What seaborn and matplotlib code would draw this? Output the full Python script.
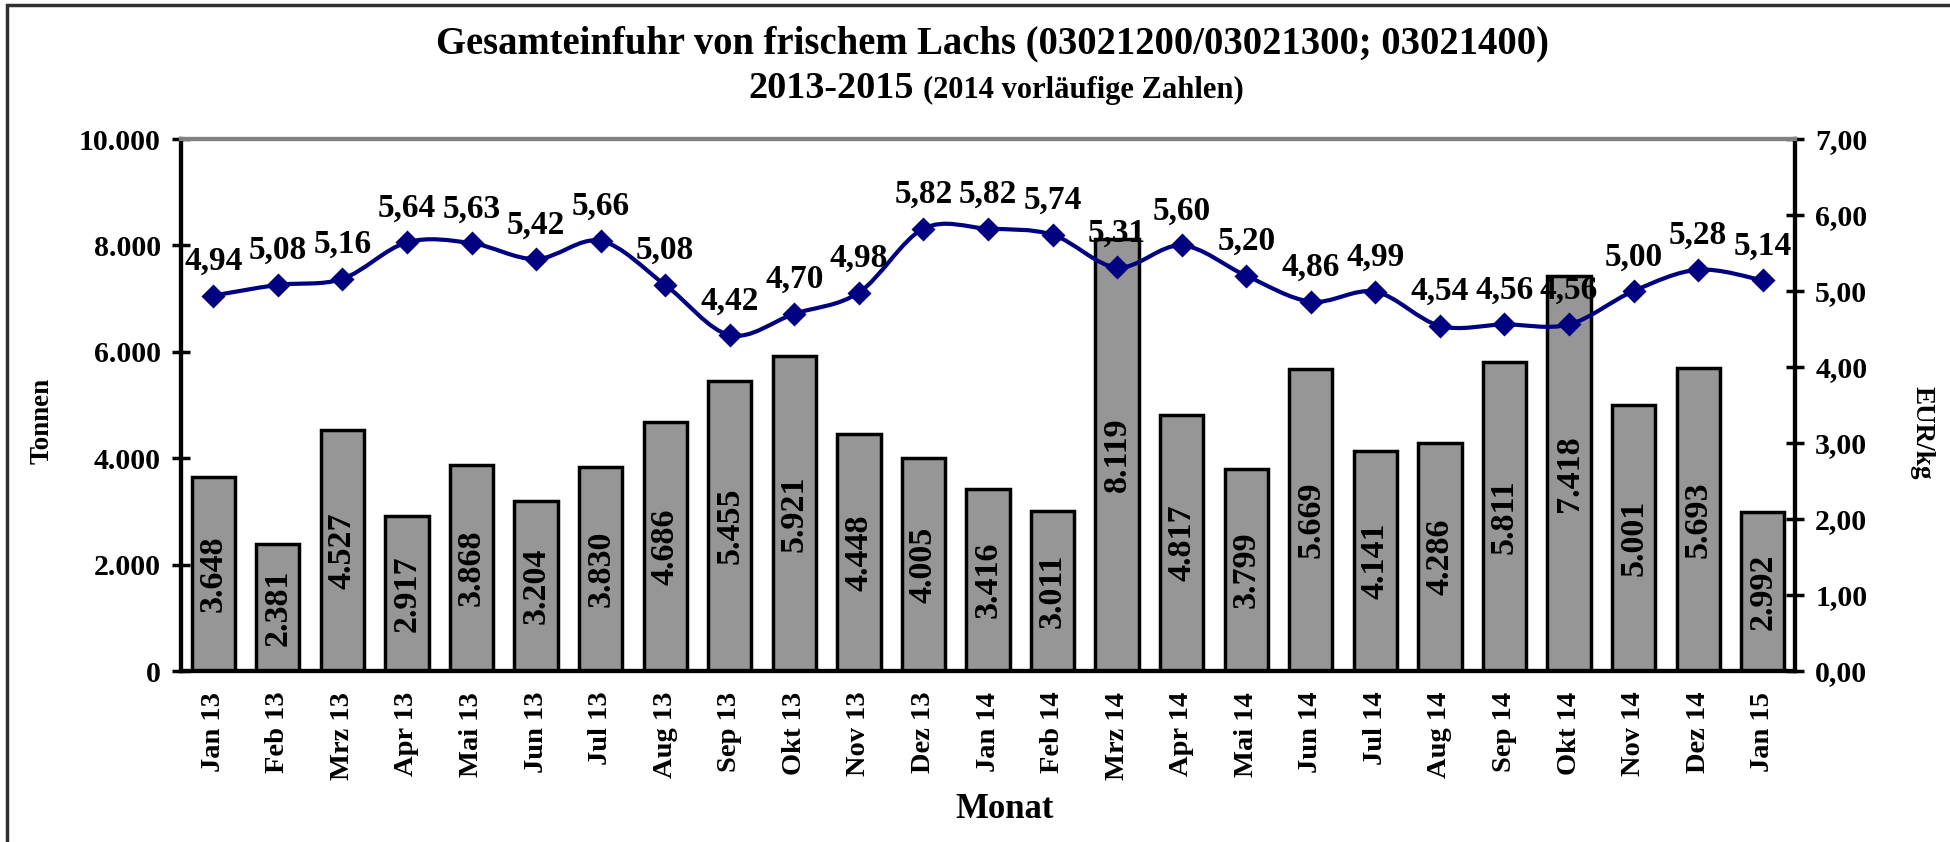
import numpy as np
import pandas as pd
import seaborn as sns
import matplotlib.pyplot as plt
from matplotlib.path import Path
from matplotlib.patches import PathPatch, Rectangle

# Data.
months = ['Jan 13', 'Feb 13', 'Mrz 13', 'Apr 13', 'Mai 13', 'Jun 13', 'Jul 13', 'Aug 13',
          'Sep 13', 'Okt 13', 'Nov 13', 'Dez 13', 'Jan 14', 'Feb 14', 'Mrz 14', 'Apr 14',
          'Mai 14', 'Jun 14', 'Jul 14', 'Aug 14', 'Sep 14', 'Okt 14', 'Nov 14', 'Dez 14',
          'Jan 15']
tonnen = [3648, 2381, 4527, 2917, 3868, 3204, 3830, 4686, 5455, 5921, 4448, 4005, 3416,
          3011, 8119, 4817, 3799, 5669, 4141, 4286, 5811, 7418, 5001, 5693, 2992]
eur_kg = [4.94, 5.08, 5.16, 5.64, 5.63, 5.42, 5.66, 5.08, 4.42, 4.70, 4.98, 5.82, 5.82,
          5.74, 5.31, 5.60, 5.20, 4.86, 4.99, 4.54, 4.56, 4.56, 5.00, 5.28, 5.14]
left_ticks = [0, 2000, 4000, 6000, 8000, 10000]
right_ticks = [0, 1, 2, 3, 4, 5, 6, 7]

df = pd.DataFrame({'Monat': months, 'Tonnen': tonnen, 'EUR/kg': eur_kg})

sns.set_style('white')
plt.rcParams['font.family'] = ['Liberation Serif', 'DejaVu Serif']
plt.rcParams['font.weight'] = 'bold'
for key in ('text.color', 'axes.labelcolor', 'xtick.color', 'ytick.color'):
    plt.rcParams[key] = 'black'

W, H = 1950, 842
fig = plt.figure(figsize=(W / 100, H / 100), dpi=100)
ax = fig.add_axes([181 / W, 1 - 671 / H, (1795 - 181) / W, (671 - 139) / H])

# Bars (tonnes)
sns.barplot(data=df, x='Monat', y='Tonnen', color='#969696', saturation=1,
            edgecolor='black', linewidth=2.5, width=0.67, ax=ax)
ax.set_xlim(-0.5, len(months) - 0.5)
ax.set_ylim(0, 10000)
ax.set_yticks(left_ticks)
ax.set_yticklabels([f'{v:,}'.replace(',', '.') for v in left_ticks])
ax.bar_label(ax.containers[0], labels=[f'{v:,}'.replace(',', '.') for v in tonnen],
             label_type='center', rotation=90, fontsize=24.5, fontweight='bold',
             color='black')

ax.tick_params(axis='y', direction='inout', length=13, width=2.5, pad=8, labelsize=21.5)
ax.tick_params(axis='x', length=0, pad=15, labelsize=20.5, labelrotation=90)
for lab in ax.get_xticklabels():
    lab.set_fontweight('bold')

ax.set_xlabel('Monat', fontsize=25, fontweight='bold', va='center')
ax.xaxis.set_label_coords((1005 - 181) / 1614, (671 - 810) / 532)
ax.set_ylabel('Tonnen', fontsize=19.5, fontweight='bold', ha='center', va='center')
ax.yaxis.set_label_coords((42 - 181) / 1614, (671 - 421) / 532)

# Price line on the secondary axis
ax2 = ax.twinx()
ax2.set_ylim(0, 7)
ax2.set_yticks(right_ticks)
ax2.set_yticklabels([f'{v:.2f}'.replace('.', ',') for v in right_ticks])
ax2.tick_params(axis='y', direction='inout', length=13, width=2.5, pad=8, labelsize=21.5)

pos = np.arange(len(months))
pts = np.column_stack([pos, eur_kg])
ext = np.vstack([pts[0], pts, pts[-1]])
verts = [tuple(pts[0])]
codes = [Path.MOVETO]
for i in range(len(pts) - 1):
    p0, p1, p2, p3 = ext[i], ext[i + 1], ext[i + 2], ext[i + 3]
    c1 = p1 + (p2 - p0) / 6
    c2 = p2 - (p3 - p1) / 6
    verts += [tuple(c1), tuple(c2), tuple(p2)]
    codes += [Path.CURVE4] * 3
ax2.add_patch(PathPatch(Path(verts, codes), fill=False, edgecolor='#000080', lw=3, zorder=3))
sns.scatterplot(x=pos, y=eur_kg, marker='D', s=150, color='#000080', edgecolor='#000080',
                linewidth=0, ax=ax2, zorder=4)
for x, v in zip(pos, eur_kg):
    ax2.annotate(f'{v:.2f}'.replace('.', ','), (x, v), xytext=(0, 18.5),
                 textcoords='offset points', ha='center', va='baseline',
                 fontsize=24, fontweight='bold', color='black', zorder=5)

ax2.set_ylabel('EUR/kg', fontsize=19.5, fontweight='bold', rotation=270,
               ha='center', va='center')
ax2.yaxis.set_label_coords((1922 - 181) / 1614, (671 - 433) / 532)

for a in (ax, ax2):
    for side in ('left', 'right', 'bottom'):
        a.spines[side].set_color('black')
        a.spines[side].set_linewidth(3)
        a.spines[side].set_visible(True)
    a.spines['top'].set_color('#808080')
    a.spines['top'].set_linewidth(3)
    a.grid(False)

# Title
fig.text(992 / W, 1 - 53 / H, 'Gesamteinfuhr von frischem Lachs (03021200/03021300; 03021400)',
         ha='center', va='baseline', fontsize=27.8, fontweight='bold')
fig.text(914 / W, 1 - 98 / H, '2013-2015', ha='right', va='baseline',
         fontsize=27.5, fontweight='bold')
fig.text(923 / W, 1 - 98 / H, '(2014 vorläufige Zahlen)', ha='left', va='baseline',
         fontsize=22, fontweight='bold')

# Chart frame (top and left edges visible)
fig.add_artist(Rectangle((7 / W, -0.1), 1.2, 1.1 - 5 / H, transform=fig.transFigure,
                         fill=False, edgecolor='#303030', lw=2.5))

fig.savefig('out.png', dpi=100)
